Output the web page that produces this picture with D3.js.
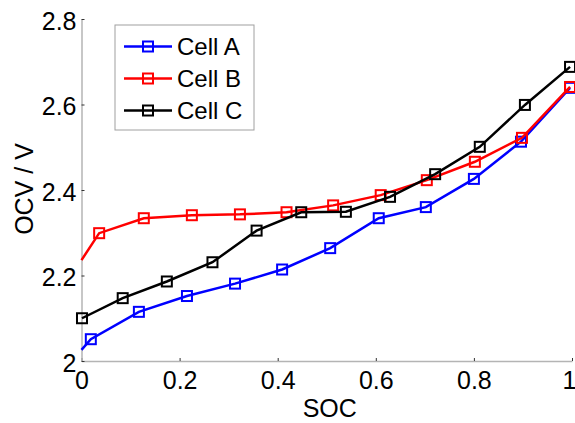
<!DOCTYPE html>
<html><head><meta charset="utf-8">
<script src="https://cdn.jsdelivr.net/npm/d3@7"></script>
<style>body{margin:0;background:#fff}svg{display:block}text{font-family:"Liberation Sans",Arial,sans-serif}</style>
</head><body><svg id="c" width="575" height="423"></svg>
<script>
const seriesNames = ["Cell A","Cell B","Cell C"];
const seriesColors = ["#0000ff","#ff0000","#000000"];
const socA = [0, 0.019, 0.117, 0.215, 0.313, 0.409, 0.507, 0.606, 0.702, 0.800, 0.896, 0.996];
const ocvA = [2.026, 2.051, 2.115, 2.152, 2.181, 2.214, 2.264, 2.334, 2.360, 2.426, 2.513, 2.639];
const socB = [0, 0.036, 0.127, 0.225, 0.323, 0.418, 0.513, 0.610, 0.704, 0.802, 0.898, 0.996];
const ocvB = [2.236, 2.299, 2.334, 2.341, 2.343, 2.348, 2.364, 2.388, 2.423, 2.466, 2.522, 2.641];
const socC = [0.001, 0.084, 0.174, 0.267, 0.357, 0.448, 0.539, 0.629, 0.721, 0.812, 0.904, 0.996];
const ocvC = [2.100, 2.147, 2.186, 2.231, 2.305, 2.348, 2.349, 2.384, 2.437, 2.501, 2.599, 2.688];
const firstMarked = [1, 1, 0];
const xTicks = [0, 0.2, 0.4, 0.6, 0.8, 1];
const yTicks = [2, 2.2, 2.4, 2.6, 2.8];
const xLabel = "SOC", yLabel = "OCV / V";

const svg = d3.select("#c");
const L = 81.5, R = 572, T = 19, B = 361;
const x = d3.scaleLinear().domain([0,1]).range([L,R]);
const y = d3.scaleLinear().domain([2,2.8]).range([B,T]);

// axes
const xa = svg.append("g").attr("transform",`translate(0,${B})`)
  .call(d3.axisBottom(x).tickValues(xTicks).tickFormat(d3.format("")).tickSizeInner(-3).tickSizeOuter(0).tickPadding(10));
const ya = svg.append("g").attr("transform",`translate(${L},0)`)
  .call(d3.axisLeft(y).tickValues(yTicks).tickFormat(d3.format("")).tickSizeInner(-3).tickSizeOuter(0).tickPadding(5));
[xa,ya].forEach(a=>{
  a.select(".domain").attr("stroke","#b4b4b4").attr("stroke-width",1.5);
  a.selectAll(".tick line").attr("stroke","#333").attr("stroke-width",1);
  a.selectAll(".tick text").attr("font-size",25).attr("fill","#000").style("font-family","Liberation Sans, Arial, sans-serif");
});
xa.selectAll(".tick text").attr("dy","0.71em").attr("dx",d=>d===1?-3:0);
ya.selectAll(".tick text").attr("dy","0.4em");

svg.append("text").attr("x",(L+R)/2+3).attr("y",417).attr("text-anchor","middle").attr("font-size",25).text(xLabel);
svg.append("text").attr("transform","translate(33,189) rotate(-90)").attr("text-anchor","middle").attr("font-size",25).text(yLabel);

const all = [[socA,ocvA],[socB,ocvB],[socC,ocvC]];
const line = d3.line().x(d=>x(d[0])).y(d=>y(d[1]));
const ms = 10;
all.forEach(([xs,ys],i)=>{
  const pts = xs.map((v,j)=>[v,ys[j]]);
  svg.append("path").datum(pts).attr("d",line).attr("fill","none").attr("stroke",seriesColors[i]).attr("stroke-width",2.5);
  svg.append("g").selectAll("rect").data(pts.slice(firstMarked[i])).join("rect")
    .attr("x",d=>x(d[0])-ms/2).attr("y",d=>y(d[1])-ms/2).attr("width",ms).attr("height",ms)
    .attr("fill","none").attr("stroke",seriesColors[i]).attr("stroke-width",2);
});

// legend
const lg = svg.append("g");
lg.append("rect").attr("x",115).attr("y",25).attr("width",139).attr("height",105).attr("fill","#fff").attr("stroke","#a0a0a0").attr("stroke-width",1);
seriesNames.forEach((n,i)=>{
  const yy = 46.5 + i*32;
  lg.append("line").attr("x1",124).attr("x2",172).attr("y1",yy).attr("y2",yy).attr("stroke",seriesColors[i]).attr("stroke-width",2.5);
  lg.append("rect").attr("x",148-ms/2).attr("y",yy-ms/2).attr("width",ms).attr("height",ms).attr("fill","none").attr("stroke",seriesColors[i]).attr("stroke-width",2);
  lg.append("text").attr("x",177).attr("y",yy).attr("dy","0.36em").attr("font-size",24).text(n);
});
</script></body></html>
